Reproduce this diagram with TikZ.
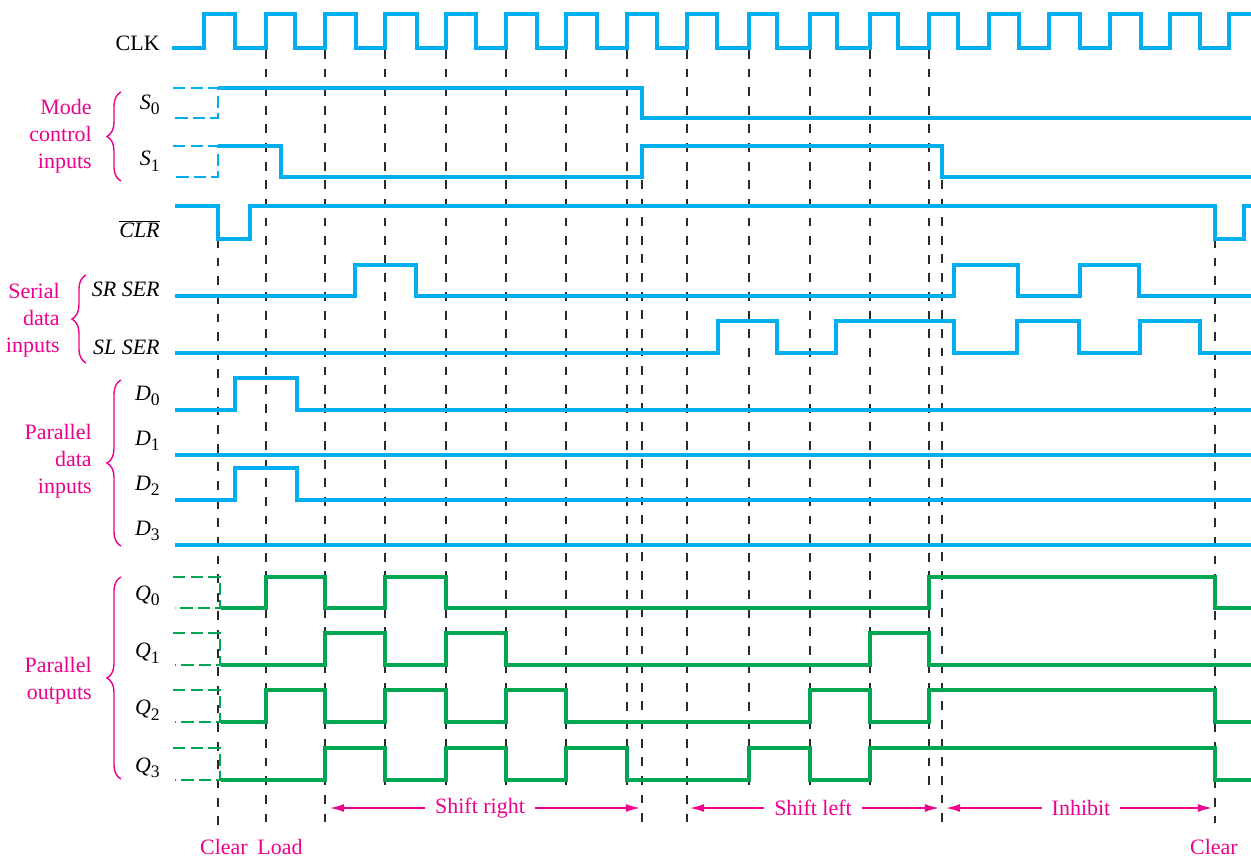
\documentclass[tikz,border=0pt]{standalone}
\usepackage{fontspec}
\setmainfont{Liberation Serif}
\usepackage{tikz}
\usetikzlibrary{arrows.meta}
\usetikzlibrary{decorations.pathreplacing}
\definecolor{sigColor}{HTML}{00AEEF}
\definecolor{outColor}{HTML}{00A651}
\definecolor{noteColor}{HTML}{EC008C}
\definecolor{guideColor}{HTML}{2A2A2A}
\newcommand{\lsub}[1]{\raisebox{-0.55ex}{\fontsize{10}{10}\selectfont #1}}

\begin{document}
\begin{tikzpicture}[
			x=0.02cm, y=-0.02cm,
			sig/.style={draw=sigColor, line width=1.8pt},
			outp/.style={draw=outColor, line width=1.8pt},
			undef/.style={line width=0.9pt, dash pattern=on 7pt off 3pt},
			guide/.style={draw=guideColor, line width=0.9pt, dash pattern=on 5pt off 5.6pt},
			lbl/.style={anchor=east, inner sep=0pt, font=\fontsize{12.5}{14}\selectfont},
			grp/.style={anchor=east, align=right, inner sep=0pt, text=noteColor, font=\fontsize{12.5}{15.3}\selectfont},
			brc/.style={draw=noteColor, line width=0.8pt, decorate, decoration={brace, amplitude=8pt}},
			span/.style={text=noteColor, inner sep=5.5pt, font=\fontsize{12.5}{14}\selectfont},
			arr/.style={draw=noteColor, line width=0.9pt, -{Latex[length=8pt, width=4.5pt]}},
			]
			\useasboundingbox (0,0) rectangle (1251,859);
			% dashed time marks
			\foreach \x/\a/\b in {218/239/827, 266/50/827, 325/50/827, 385/50/790, 446/50/790, 506/50/790, 566/50/790, 627/50/790, 642/180/827, 687/50/827, 749/50/790, 810/50/790, 870/50/790, 929/50/790, 942/180/823, 1215/239/823}
				\draw[guide] (\x,\a) -- (\x,\b);
			% clock
			\draw[sig] (172,48) \foreach \r/\f in {204/235, 266/295, 325/356, 385/417, 446/476, 506/537, 566/597, 627/657, 687/717, 749/777, 810/837, 870/898, 929/958, 989/1019, 1049/1080, 1110/1141, 1170/1200} { -| (\r,14) -| (\f,48) } -| (1229,14) -- (1251,14);
			% inputs
			\foreach \h/\l in {88/118, 146/177} \draw[sig, undef] (173,\h) -- (218,\h) -- (218,\l) -- (173,\l);
			\draw[sig] (218,88) -| (642,118) -- (1251,118);
			\draw[sig] (218,146) -| (281,177) -| (642,146) -| (942,177) -- (1251,177);
			\draw[sig] (175,206) -| (218,239) -| (250,206) -| (1215,239) -| (1244,206) -- (1251,206);
			\draw[sig] (175,296) -| (355,265) -| (416,296) -| (954,265) -| (1018,296) -| (1080,265) -| (1139,296) -- (1251,296);
			\draw[sig] (175,353) -| (718,321) -| (777,353) -| (836,321) -| (954,353) -| (1017,321) -| (1079,353) -| (1140,321) -| (1200,353) -- (1251,353);
			\draw[sig] (175,410) -| (235,378) -| (297,410) -- (1251,410);
			\draw[sig] (175,455) -- (1251,455);
			\draw[sig] (175,500) -| (235,468) -| (297,500) -- (1251,500);
			\draw[sig] (175,545) -- (1251,545);
			% outputs
			\foreach \h/\l in {577/608, 633/665, 690/722, 748/780} \draw[outp, undef] (173,\h) -- (220,\h) -- (220,\l) -- (175,\l);
			\draw[outp] (221,608) -| (266,577) -| (325,608) -| (385,577) -| (446,608) -| (929,577) -| (1215,608) -- (1251,608);
			\draw[outp] (221,665) -| (325,633) -| (385,665) -| (446,633) -| (506,665) -| (870,633) -| (929,665) -- (1251,665);
			\draw[outp] (221,722) -| (266,690) -| (325,722) -| (385,690) -| (446,722) -| (506,690) -| (566,722) -| (810,690) -| (870,722) -| (929,690) -| (1215,722) -- (1251,722);
			\draw[outp] (221,780) -| (325,748) -| (385,780) -| (446,748) -| (506,780) -| (566,748) -| (627,780) -| (749,748) -| (810,780) -| (870,748) -| (1215,780) -- (1251,780);
			% signal names
			\node[lbl] (clk) at (160,43) {CLK};
			\node[lbl] (s0) at (160,105) {\textit{S}\lsub{0}};
			\node[lbl] (s1) at (160,161) {\textit{S}\lsub{1}};
			\node[lbl] (clr) at (160,229) {$\overline{\hbox{\itshape CLR}}$};
			\node[lbl] (srser) at (160,289) {\textit{SR SER}};
			\node[lbl] (slser) at (160,347) {\textit{SL SER}};
			\foreach \i/\y in {0/396, 1/441, 2/486, 3/531} \node[lbl] (d\i) at (160,\y) {\textit{D}\lsub{\i}};
			\foreach \i/\y in {0/596, 1/653, 2/710, 3/768} \node[lbl] (q\i) at (160,\y) {\textit{Q}\lsub{\i}};
			% groups
			\node[grp] (mode) at (92,136) {Mode\\control\\inputs};
			\node[grp] (serial) at (60,320) {Serial\\data\\inputs};
			\node[grp] (pdata) at (92,461) {Parallel\\data\\inputs};
			\node[grp] (pout) at (92,681) {Parallel\\outputs};
			\draw[brc] (121,181) -- (121,92);
			\draw[brc] (86,363) -- (86,275);
			\draw[brc] (121,546) -- (121,380);
			\draw[brc] (121,779) -- (121,577);
			% operations
			\coordinate (sr1) at (330,808);
			\coordinate (sr2) at (640,808);
			\coordinate (sl1) at (690,808);
			\coordinate (sl2) at (939,808);
			\coordinate (ih1) at (946,808);
			\coordinate (ih2) at (1212,808);
			\node[span] (shr) at (480,808) {Shift right};
			\node[span] (shl) at (813,808) {Shift left};
			\node[span] (inh) at (1081,808) {Inhibit};
			\draw[arr] (shr) -- (sr1);
			\draw[arr] (shr) -- (sr2);
			\draw[arr] (shl) -- (sl1);
			\draw[arr] (shl) -- (sl2);
			\draw[arr] (inh) -- (ih1);
			\draw[arr] (inh) -- (ih2);
			\node[span, inner sep=0pt] (clr1) at (224,847) {Clear};
			\node[span, inner sep=0pt] (load) at (280,847) {Load};
			\node[span, inner sep=0pt] (clr2) at (1214,847) {Clear};
		\end{tikzpicture}
\end{document}
